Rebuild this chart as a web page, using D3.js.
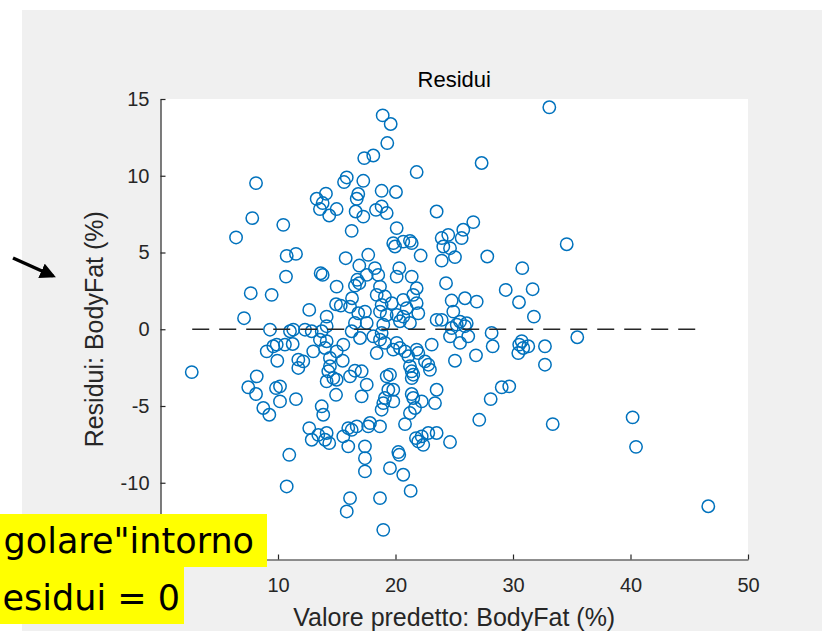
<!DOCTYPE html>
<html lang="it">
<head>
    <meta charset="UTF-8">
    <title>Residui</title>
    <script src="https://cdn.jsdelivr.net/npm/d3@7.8.5/dist/d3.min.js"></script>
    <style>
        body { margin: 0; background: #fff; }
        svg { display: block; }
    </style>
</head>
<body>
<div id="chart"></div>
<script type="text/javascript">
    // valori: valore predetto (x) e residuo (y)
    const predetto = [
        8.13, 7.81, 6.43, 10.45, 10.74, 11.53, 10.68, 7.68, 9.46, 7.11,
        15.85, 15.62, 17.34, 17.26, 13.29, 14.08, 13.80, 13.57, 14.36, 14.99,
        16.83, 16.70, 16.61, 17.26, 16.27, 15.76, 16.92, 13.63, 13.80, 14.99,
        16.75, 16.92, 16.55, 16.30, 14.94, 15.34, 16.13, 12.66, 14.14, 16.83,
        18.91, 19.59, 19.30, 18.11, 33.09, 27.33, 21.80, 18.82, 20.04, 18.34,
        18.82, 19.25, 23.50, 20.10, 19.81, 19.96, 20.66, 21.23, 21.38, 22.14,
        17.68, 23.93, 24.49, 24.07, 24.64, 25.06, 25.63, 25.77, 26.62, 23.93,
        27.81, 30.79, 24.30, 29.38, 31.67, 30.51, 31.78, 17.55, 18.25, 18.53,
        20.32, 20.10, 21.38, 21.80, 21.51, 18.68, 18.40, 19.10, 18.82, 19.68,
        20.66, 20.95, 21.80, 24.78, 25.91, 26.91, 24.92, 17.40, 18.68, 19.25,
        20.10, 20.66, 21.94, 23.50, 23.93, 25.49, 26.06,
        2.66, 9.32, 9.04, 9.60, 9.89, 9.94, 10.59, 11.25, 11.30, 11.02,
        12.30, 11.73, 12.15, 11.73, 8.19, 7.47, 8.13, 9.83, 10.17, 10.17,
        11.53, 8.75, 9.26, 10.96, 10.74, 13.00, 13.57, 14.14, 14.00, 12.87,
        13.72, 14.14, 14.42, 14.42, 14.28, 14.71, 14.14, 14.99, 15.51, 14.94,
        14.99, 15.56, 13.72, 13.85, 12.66, 12.87, 13.43, 14.00, 14.36, 14.14,
        16.13, 16.55, 17.12, 15.56, 15.98, 16.27, 16.70, 15.98, 16.13, 15.85,
        16.27, 16.55, 16.98,
        18.96, 18.68, 21.29, 20.66, 19.53, 20.24, 20.32, 17.40, 17.40, 17.40,
        21.74, 22.23, 22.36, 21.94, 22.79, 23.50, 24.64, 20.81, 21.23, 21.66,
        22.23, 23.50, 23.36, 21.38, 21.51, 19.10, 18.96, 19.39, 19.81, 19.81,
        18.82, 17.83, 17.68, 18.68, 17.55, 19.53, 19.25, 21.38, 21.51, 21.38,
        21.23, 22.51, 22.93, 22.79, 21.80, 21.94, 20.81, 21.09, 20.38, 19.81,
        20.10, 18.40, 18.68, 19.10, 18.82, 18.11, 17.12, 23.08, 25.06, 26.85,
        28.27, 28.18, 24.64, 25.49, 26.19, 25.21, 25.91, 24.78, 30.53, 30.74,
        30.45, 30.87, 31.30, 32.72, 32.72, 28.10, 29.04, 29.68, 27.13, 33.38,
        21.23, 20.38, 18.96, 17.55,
        34.57, 35.47, 40.18, 40.47, 46.62
    ];
    const residui = [
        9.52, 7.24, 5.98, 6.80, 4.78, 4.91, 3.43, 2.35, 2.24, 0.72,
        9.89, 9.59, 11.15, 9.67, 8.50, 8.83, 8.22, 7.83, 7.41, 7.83,
        8.81, 8.50, 7.67, 7.34, 6.41, 4.63, 4.15, 3.65, 3.54, 2.78,
        3.22, 3.00, 2.84, 2.02, 1.63, 1.54, 1.47, 1.26, 0.82, 1.04,
        13.93, 13.37, 12.13, 11.32, 14.46, 10.83, 10.24, 9.02, 8.94, 7.78,
        8.00, 7.57, 7.67, 6.59, 5.61, 5.39, 5.71, 5.76, 5.61, 4.80,
        4.85, 5.94, 6.15, 5.39, 5.28, 4.70, 5.94, 6.48, 6.98, 4.47,
        4.74, 3.98, 3.00, 2.56, 2.61, 1.76, 0.82, 3.54, 3.98, 3.54,
        3.98, 3.43, 3.43, 2.67, 2.24, 2.78, 2.24, 2.13, 1.59, 1.70,
        1.91, 1.37, 1.70, 1.87, 2.02, 1.80, 1.15, 1.15, 1.15, 0.93,
        0.93, 0.82, 1.04, 0.61, 0.61, 0.50, 0.39,
        -2.79, -0.03, -1.44, -1.11, -1.00, -2.05, -1.00, -0.96, -0.03, -0.13,
        -0.03, -1.98, -2.09, -2.52, -3.07, -3.78, -4.22, -3.83, -3.72, -4.70,
        -4.55, -5.13, -5.57, -8.18, -10.24, -1.44, -0.68, -0.78, -1.22, -0.13,
        -0.13, 0.20, -1.87, -2.41, -2.74, -3.18, -3.39, -3.29, -2.05, -4.27,
        -1.44, -1.00, -5.02, -5.57, -6.44, -7.20, -6.88, -7.20, -7.42, -6.76,
        -3.07, -2.70, -4.37, -6.98, -6.44, -6.55, -6.33, -7.63, -11.00, -11.87,
        -0.13, 0.41, -0.57,
        -13.07, -11.00, -10.53, -9.48, -9.05, -8.00, -8.18, -7.63, -8.40, -9.26,
        -7.09, -6.98, -7.53, -7.31, -6.76, -6.76, -7.35, -6.18, -5.46, -5.13,
        -4.70, -3.94, -4.81, -4.22, -4.48, -4.48, -4.81, -3.94, -3.94, -4.70,
        -5.24, -6.11, -6.33, -6.33, -3.61, -2.96, -3.07, -2.74, -2.96, -3.18,
        -2.41, -2.09, -2.64, -2.31, -1.33, -1.55, -1.44, -1.76, -1.22, -1.33,
        -0.89, -1.55, -0.68, -0.89, -0.24, -0.46, -2.74, -1.00, -2.05, -1.70,
        -1.11, -0.24, -0.46, -0.89, -0.46, 0.30, 0.20, 0.08, -1.00, -0.78,
        -1.55, -1.22, -1.11, -1.11, -2.31, -4.55, -3.78, -3.72, -5.90, -6.18,
        0.41, 0.52, 0.30, 0.41,
        5.54, -0.52, -5.74, -7.66, -11.53
    ];
    // le etichette 0 (x) e -15 (y) sono nascoste dai riquadri gialli
    const xTicks = [10, 20, 30, 40, 50];
    const yTicks = [-10, -5, 0, 5, 10, 15];
    const lineaZero = [2.7, 46];   // estremi della linea tratteggiata a residuo 0
    const titolo = 'Residui';
    const xLabel = 'Valore predetto: BodyFat (%)';
    const yLabel = 'Residui: BodyFat (%)';
    const nota = ['golare"intorno', 'esidui = 0'];

    const width = 831, height = 631;
    const area = {left: 160.5, right: 748, top: 99, bottom: 559.5};
    const font = '"Liberation Sans", Arial, sans-serif';
    const ink = '#262626';

    const data = predetto.map((d, i) => [d, residui[i]]);

    const svg = d3.select('#chart')
        .append('svg')
        .attr('width', width)
        .attr('height', height);

    // sfondo grigio della figura
    svg.append('rect')
        .attr('x', 22).attr('y', 10)
        .attr('width', 800).attr('height', height - 10)
        .attr('fill', '#f0f0f0');

    const xScale = d3.scaleLinear().domain([0, 50]).range([area.left, area.right]);
    const yScale = d3.scaleLinear().domain([-15, 15]).range([area.bottom, area.top]);

    // area del grafico
    svg.append('rect')
        .attr('x', area.left).attr('y', area.top)
        .attr('width', area.right - area.left).attr('height', area.bottom - area.top)
        .attr('fill', '#fff');

    //Axes (ticks verso l'interno come in MATLAB)
    const xAxis = svg.append('g')
        .attr('transform', `translate(0,${area.bottom})`)
        .call(d3.axisBottom(xScale).tickValues(xTicks).tickFormat(d => String(d))
            .tickSizeInner(-5).tickSizeOuter(0).tickPadding(18));
    const yAxis = svg.append('g')
        .attr('transform', `translate(${area.left},0)`)
        .call(d3.axisLeft(yScale).tickValues(yTicks).tickFormat(d => String(d))
            .tickSizeInner(-5).tickSizeOuter(0).tickPadding(11));
    [xAxis, yAxis].forEach(a => {
        a.select('.domain').attr('stroke', ink).attr('stroke-width', 1.2);
        a.selectAll('.tick line').attr('stroke', ink).attr('stroke-width', 1.2);
        a.selectAll('.tick text').attr('fill', ink)
            .style('font-family', font).style('font-size', '20px');
    });

    // punti
    svg.append('g')
        .selectAll('circle')
        .data(data)
        .join('circle')
        .attr('cx', d => xScale(d[0]))
        .attr('cy', d => yScale(d[1]))
        .attr('r', 6.2)
        .attr('fill', 'none')
        .attr('stroke', '#0072bd')
        .attr('stroke-width', 1.5);

    // linea tratteggiata a 0
    svg.append('line')
        .attr('x1', xScale(lineaZero[0])).attr('x2', xScale(lineaZero[1]))
        .attr('y1', yScale(0)).attr('y2', yScale(0))
        .attr('stroke', ink)
        .attr('stroke-width', 1.6)
        .attr('stroke-dasharray', '17,10');

    // titolo ed etichette
    svg.append('text')
        .attr('x', (area.left + area.right) / 2).attr('y', 87)
        .attr('text-anchor', 'middle')
        .style('font-family', font).style('font-size', '22px')
        .attr('fill', '#000')
        .text(titolo);
    svg.append('text')
        .attr('x', (area.left + area.right) / 2).attr('y', 626)
        .attr('text-anchor', 'middle')
        .style('font-family', font).style('font-size', '25px')
        .attr('fill', ink)
        .text(xLabel);
    svg.append('text')
        .attr('transform', `translate(103,${(area.top + area.bottom) / 2}) rotate(-90)`)
        .attr('text-anchor', 'middle')
        .style('font-family', font).style('font-size', '25px')
        .attr('fill', ink)
        .text(yLabel);

    // freccia
    svg.append('defs').append('marker')
        .attr('id', 'punta')
        .attr('viewBox', '0 0 10 10')
        .attr('refX', 8).attr('refY', 5)
        .attr('markerWidth', 4.5).attr('markerHeight', 4.5)
        .attr('orient', 'auto')
        .append('path').attr('d', 'M0,0L10,5L0,10z').attr('fill', '#000');
    svg.append('line')
        .attr('x1', 13).attr('y1', 258)
        .attr('x2', 53).attr('y2', 276)
        .attr('stroke', '#000')
        .attr('stroke-width', 3.5)
        .attr('marker-end', 'url(#punta)');

    // riquadri gialli del testo della slide
    const box = [
        {w: 267, y: 514, h: 53, base: 553, end: 254},
        {w: 184, y: 567, h: 57, base: 610, end: 180}
    ];
    box.forEach((b, i) => {
        svg.append('rect')
            .attr('x', 0).attr('y', b.y)
            .attr('width', b.w).attr('height', b.h)
            .attr('fill', '#ffff00');
        svg.append('text')
            .attr('x', b.end).attr('y', b.base)
            .attr('text-anchor', 'end')
            .style('font-family', '"DejaVu Sans", sans-serif')
            .style('font-size', '35px')
            .attr('fill', '#000')
            .text(nota[i]);
    });
</script>
</body>
</html>
